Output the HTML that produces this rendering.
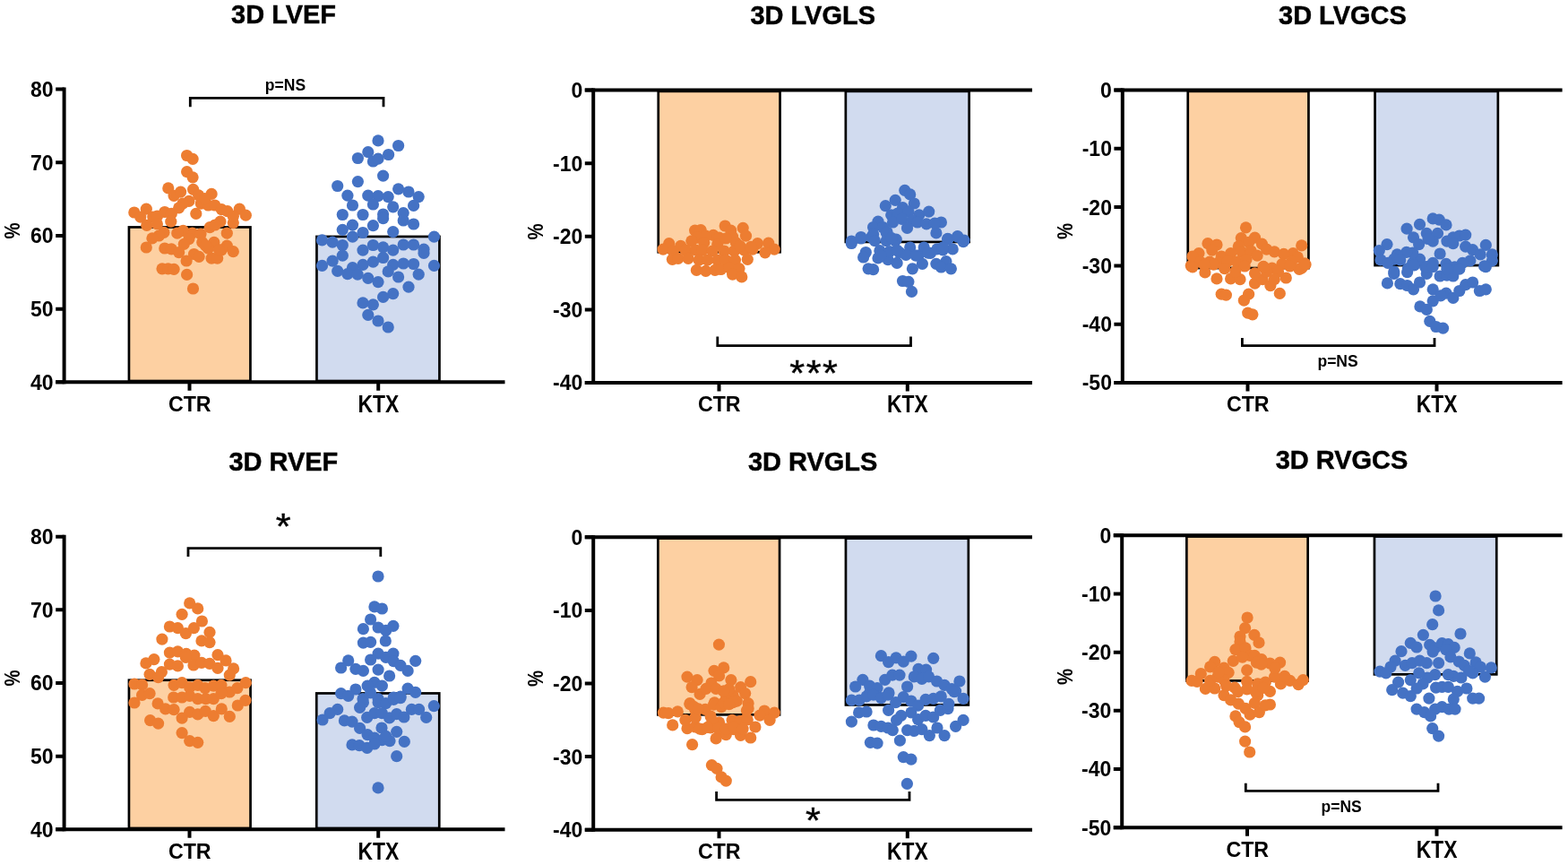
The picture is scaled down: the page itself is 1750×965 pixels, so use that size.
<!DOCTYPE html>
<html><head><meta charset="utf-8"><title>3D echocardiography</title>
<style>html,body{margin:0;padding:0;background:#fff;overflow:hidden}svg{display:block}</style>
</head><body>
<svg width="1750" height="965" viewBox="0 0 1750 965">
<rect width="1750" height="965" fill="#fff"/>
<rect x="143.95" y="253.45" width="135.5" height="171.55" fill="#FDD0A2" stroke="#000" stroke-width="2.7"/>
<rect x="353.45" y="263.95" width="137" height="161.05" fill="#D1DBEF" stroke="#000" stroke-width="2.7"/>
<g fill="#ED7D31"><circle cx="208.6" cy="173.5" r="6.6"/><circle cx="215.1" cy="177.3" r="6.6"/><circle cx="208.6" cy="191.7" r="6.6"/><circle cx="215.1" cy="197.8" r="6.6"/><circle cx="187.8" cy="209.9" r="6.6"/><circle cx="194.1" cy="218.3" r="6.6"/><circle cx="201.6" cy="214.1" r="6.6"/><circle cx="215.6" cy="211.3" r="6.6"/><circle cx="221.6" cy="217.8" r="6.6"/><circle cx="236.1" cy="216.4" r="6.6"/><circle cx="210.9" cy="224.4" r="6.6"/><circle cx="204" cy="227" r="6.6"/><circle cx="199.7" cy="231.8" r="6.6"/><circle cx="224.4" cy="227.2" r="6.6"/><circle cx="232.4" cy="229" r="6.6"/><circle cx="239.8" cy="229" r="6.6"/><circle cx="247.3" cy="233.7" r="6.6"/><circle cx="253.8" cy="235.6" r="6.6"/><circle cx="267.3" cy="233.2" r="6.6"/><circle cx="274.3" cy="240.2" r="6.6"/><circle cx="218.8" cy="238.4" r="6.6"/><circle cx="149.8" cy="237" r="6.6"/><circle cx="163.3" cy="233.2" r="6.6"/><circle cx="156.8" cy="242.1" r="6.6"/><circle cx="170.8" cy="242.1" r="6.6"/><circle cx="183.8" cy="236.5" r="6.6"/><circle cx="191.3" cy="238.4" r="6.6"/><circle cx="190.8" cy="247.2" r="6.6"/><circle cx="245.9" cy="247.2" r="6.6"/><circle cx="260.3" cy="248.6" r="6.6"/><circle cx="260.3" cy="241.2" r="6.6"/><circle cx="175.4" cy="241.2" r="6.6"/><circle cx="163.8" cy="251.3" r="6.6"/><circle cx="175.4" cy="249.9" r="6.6"/><circle cx="234.2" cy="253.7" r="6.6"/><circle cx="240" cy="251" r="6.6"/><circle cx="204.4" cy="257.4" r="6.6"/><circle cx="197.8" cy="260.2" r="6.6"/><circle cx="182.9" cy="259.3" r="6.6"/><circle cx="177.3" cy="263" r="6.6"/><circle cx="169.9" cy="265.8" r="6.6"/><circle cx="163.3" cy="276" r="6.6"/><circle cx="253.3" cy="260.2" r="6.6"/><circle cx="214.6" cy="260.2" r="6.6"/><circle cx="224" cy="261.1" r="6.6"/><circle cx="210.9" cy="266.7" r="6.6"/><circle cx="205.3" cy="272.3" r="6.6"/><circle cx="225.8" cy="270.4" r="6.6"/><circle cx="238.9" cy="270.4" r="6.6"/><circle cx="253.3" cy="274.2" r="6.6"/><circle cx="260.3" cy="280.7" r="6.6"/><circle cx="183.8" cy="277" r="6.6"/><circle cx="191.3" cy="277.9" r="6.6"/><circle cx="199.7" cy="281.6" r="6.6"/><circle cx="216.5" cy="283.5" r="6.6"/><circle cx="222.1" cy="286.3" r="6.6"/><circle cx="236.1" cy="288.2" r="6.6"/><circle cx="242.6" cy="288.2" r="6.6"/><circle cx="232.4" cy="277" r="6.6"/><circle cx="247.3" cy="278.8" r="6.6"/><circle cx="208.1" cy="291" r="6.6"/><circle cx="181" cy="299.8" r="6.6"/><circle cx="187.6" cy="299.8" r="6.6"/><circle cx="194.1" cy="300.3" r="6.6"/><circle cx="208.6" cy="306.4" r="6.6"/><circle cx="215.5" cy="322" r="6.6"/><circle cx="228.6" cy="221.6" r="6.6"/><circle cx="229.6" cy="274.2" r="6.6"/><circle cx="244.5" cy="278.8" r="6.6"/></g>
<g fill="#4472C4"><circle cx="422" cy="156.9" r="6.6"/><circle cx="444.6" cy="162.5" r="6.6"/><circle cx="410.8" cy="169.7" r="6.6"/><circle cx="399.4" cy="176.5" r="6.6"/><circle cx="416.4" cy="180" r="6.6"/><circle cx="422" cy="177.2" r="6.6"/><circle cx="433.6" cy="172.5" r="6.6"/><circle cx="427.6" cy="196.1" r="6.6"/><circle cx="399.4" cy="202.6" r="6.6"/><circle cx="376.7" cy="207.5" r="6.6"/><circle cx="444.6" cy="210.8" r="6.6"/><circle cx="456" cy="214" r="6.6"/><circle cx="467.2" cy="219.6" r="6.6"/><circle cx="387.9" cy="218.2" r="6.6"/><circle cx="410.8" cy="218.2" r="6.6"/><circle cx="422" cy="218.7" r="6.6"/><circle cx="433.2" cy="219.6" r="6.6"/><circle cx="393.5" cy="229" r="6.6"/><circle cx="416.4" cy="228" r="6.6"/><circle cx="438.7" cy="230.8" r="6.6"/><circle cx="461.6" cy="229.4" r="6.6"/><circle cx="382.3" cy="239.5" r="6.6"/><circle cx="405" cy="239.5" r="6.6"/><circle cx="427.6" cy="239" r="6.6"/><circle cx="427.6" cy="243.7" r="6.6"/><circle cx="450.2" cy="237.6" r="6.6"/><circle cx="450.2" cy="246" r="6.6"/><circle cx="461.6" cy="250" r="6.6"/><circle cx="393.5" cy="251.1" r="6.6"/><circle cx="416.4" cy="251.6" r="6.6"/><circle cx="382.3" cy="256.3" r="6.6"/><circle cx="405" cy="259.5" r="6.6"/><circle cx="393.5" cy="264.2" r="6.6"/><circle cx="438.7" cy="258.6" r="6.6"/><circle cx="484.5" cy="264.2" r="6.6"/><circle cx="359.5" cy="267.9" r="6.6"/><circle cx="371.1" cy="270.2" r="6.6"/><circle cx="382.3" cy="273.5" r="6.6"/><circle cx="416.4" cy="273.5" r="6.6"/><circle cx="427.6" cy="275.8" r="6.6"/><circle cx="405" cy="279.1" r="6.6"/><circle cx="438.7" cy="279.1" r="6.6"/><circle cx="450.2" cy="273" r="6.6"/><circle cx="461.6" cy="273" r="6.6"/><circle cx="473" cy="278.2" r="6.6"/><circle cx="473" cy="282.4" r="6.6"/><circle cx="382.3" cy="285.2" r="6.6"/><circle cx="427.6" cy="287.5" r="6.6"/><circle cx="371.1" cy="291.2" r="6.6"/><circle cx="359.5" cy="296.4" r="6.6"/><circle cx="416.4" cy="292.2" r="6.6"/><circle cx="405" cy="295.4" r="6.6"/><circle cx="393.5" cy="298.7" r="6.6"/><circle cx="438.7" cy="295.4" r="6.6"/><circle cx="450.2" cy="294" r="6.6"/><circle cx="461.6" cy="294.5" r="6.6"/><circle cx="484.5" cy="296.4" r="6.6"/><circle cx="376.7" cy="302.4" r="6.6"/><circle cx="387.9" cy="305.7" r="6.6"/><circle cx="399.1" cy="306.2" r="6.6"/><circle cx="433.2" cy="302.9" r="6.6"/><circle cx="444.6" cy="309" r="6.6"/><circle cx="467.2" cy="306.2" r="6.6"/><circle cx="410.8" cy="310.4" r="6.6"/><circle cx="422" cy="314.6" r="6.6"/><circle cx="456" cy="320.2" r="6.6"/><circle cx="438.7" cy="327.6" r="6.6"/><circle cx="427.6" cy="331.4" r="6.6"/><circle cx="405" cy="337.9" r="6.6"/><circle cx="416.4" cy="339.8" r="6.6"/><circle cx="410.8" cy="351.4" r="6.6"/><circle cx="422" cy="358" r="6.6"/><circle cx="433.2" cy="365" r="6.6"/></g>
<g stroke="#000" stroke-width="4.0" fill="none">
<path d="M71.6 97.6V428.35"/>
<path d="M62.2 99.6H71.6M62.2 181.287H71.6M62.2 262.975H71.6M62.2 344.663H71.6M62.2 426.35H71.6"/>
<path d="M62.2 426.35H563.5"/>
<path d="M211.5 426.35V435.85M422.2 426.35V435.85"/>
</g>
<path d="M212.3 119.3V109.3H428V119.3" stroke="#000" stroke-width="2.8" fill="none"/>
<g font-family='"Liberation Sans", Arial, sans-serif' font-weight="bold" fill="#000">
<text transform="matrix(1.035 0 0 1.045 258.052 25.627)" font-size="28" stroke="#000" stroke-width="0.45">3D LVEF</text>
<text transform="matrix(1.15 0 0 1.18 33.975 108.012)" font-size="20">80</text>
<text transform="matrix(1.15 0 0 1.18 33.975 189.7)" font-size="20">70</text>
<text transform="matrix(1.15 0 0 1.18 33.975 271.388)" font-size="20">60</text>
<text transform="matrix(1.15 0 0 1.18 33.975 353.075)" font-size="20">50</text>
<text transform="matrix(1.15 0 0 1.18 33.975 434.763)" font-size="20">40</text>
<text transform="matrix(1.16 0 0 1.19 187.93 458.71)" font-size="20">CTR</text>
<text transform="matrix(1.143 0 0 1.367 399.468 459.646)" font-size="20">KTX</text>
<text transform="matrix(1.094 0 0 1.11 295.863 100.587)" font-size="16">p=NS</text>
<text transform="matrix(1.207 0 0 1.015 22.498 266.607) rotate(-90)" font-size="20">%</text>
</g>
<rect x="734.75" y="101.85" width="135.8" height="179.4" fill="#FDD0A2" stroke="#000" stroke-width="2.7"/>
<rect x="943.85" y="101.85" width="137.8" height="168.1" fill="#D1DBEF" stroke="#000" stroke-width="2.7"/>
<g fill="#ED7D31"><circle cx="809.2" cy="252" r="6.6"/><circle cx="815.7" cy="257.1" r="6.6"/><circle cx="829.2" cy="254.3" r="6.6"/><circle cx="775.6" cy="257.1" r="6.6"/><circle cx="782.1" cy="256.7" r="6.6"/><circle cx="796.1" cy="262.3" r="6.6"/><circle cx="787.7" cy="263.2" r="6.6"/><circle cx="802.6" cy="265.1" r="6.6"/><circle cx="817.6" cy="264.1" r="6.6"/><circle cx="832.5" cy="263.2" r="6.6"/><circle cx="778.4" cy="265.1" r="6.6"/><circle cx="771.8" cy="268.8" r="6.6"/><circle cx="785.8" cy="270.6" r="6.6"/><circle cx="800.8" cy="272.5" r="6.6"/><circle cx="746.7" cy="271.6" r="6.6"/><circle cx="759.7" cy="274.4" r="6.6"/><circle cx="845.5" cy="271.6" r="6.6"/><circle cx="857.7" cy="271.1" r="6.6"/><circle cx="821.3" cy="270.6" r="6.6"/><circle cx="740.1" cy="278.1" r="6.6"/><circle cx="751.3" cy="280" r="6.6"/><circle cx="765.3" cy="279" r="6.6"/><circle cx="776.5" cy="279" r="6.6"/><circle cx="784" cy="279" r="6.6"/><circle cx="795.2" cy="280" r="6.6"/><circle cx="808.2" cy="280" r="6.6"/><circle cx="819.4" cy="280" r="6.6"/><circle cx="830.6" cy="279" r="6.6"/><circle cx="839.9" cy="278.1" r="6.6"/><circle cx="864.2" cy="278.1" r="6.6"/><circle cx="853.9" cy="281.8" r="6.6"/><circle cx="750.4" cy="289.3" r="6.6"/><circle cx="756.9" cy="288.4" r="6.6"/><circle cx="768.1" cy="288.4" r="6.6"/><circle cx="780.2" cy="290.2" r="6.6"/><circle cx="789.6" cy="290.2" r="6.6"/><circle cx="800.8" cy="290.2" r="6.6"/><circle cx="810.1" cy="290.2" r="6.6"/><circle cx="820.4" cy="290.2" r="6.6"/><circle cx="834.3" cy="289.3" r="6.6"/><circle cx="777.4" cy="301.4" r="6.6"/><circle cx="787.7" cy="302.4" r="6.6"/><circle cx="798" cy="301.4" r="6.6"/><circle cx="804.5" cy="300.5" r="6.6"/><circle cx="813.8" cy="298.6" r="6.6"/><circle cx="825" cy="299.6" r="6.6"/><circle cx="817.6" cy="306.1" r="6.6"/><circle cx="827.8" cy="308.9" r="6.6"/><circle cx="810.1" cy="266" r="6.6"/><circle cx="825.9" cy="274.4" r="6.6"/><circle cx="838.1" cy="275.3" r="6.6"/></g>
<g fill="#4472C4"><circle cx="1009.8" cy="212.4" r="6.6"/><circle cx="1015.7" cy="216.9" r="6.6"/><circle cx="1020.3" cy="227" r="6.6"/><circle cx="999.2" cy="223.3" r="6.6"/><circle cx="988.3" cy="229.7" r="6.6"/><circle cx="1007.5" cy="231.6" r="6.6"/><circle cx="994.7" cy="239.8" r="6.6"/><circle cx="1002" cy="238" r="6.6"/><circle cx="1013.9" cy="236.1" r="6.6"/><circle cx="1025.8" cy="239.8" r="6.6"/><circle cx="1036.7" cy="236.1" r="6.6"/><circle cx="996.5" cy="248" r="6.6"/><circle cx="1006.6" cy="244.4" r="6.6"/><circle cx="1018.4" cy="246.2" r="6.6"/><circle cx="1023.9" cy="248" r="6.6"/><circle cx="1034" cy="249.8" r="6.6"/><circle cx="1050.4" cy="248" r="6.6"/><circle cx="1044.9" cy="259.9" r="6.6"/><circle cx="1012.5" cy="254.4" r="6.6"/><circle cx="980" cy="247.1" r="6.6"/><circle cx="974.6" cy="253.5" r="6.6"/><circle cx="985.5" cy="253.5" r="6.6"/><circle cx="990.1" cy="259" r="6.6"/><circle cx="960.9" cy="264.5" r="6.6"/><circle cx="950.3" cy="269" r="6.6"/><circle cx="972.7" cy="264.5" r="6.6"/><circle cx="1000.2" cy="267.2" r="6.6"/><circle cx="1057.7" cy="266.3" r="6.6"/><circle cx="1068.7" cy="263.6" r="6.6"/><circle cx="1076" cy="268.1" r="6.6"/><circle cx="950.3" cy="271.5" r="6.6"/><circle cx="960.9" cy="266" r="6.6"/><circle cx="974.6" cy="261.4" r="6.6"/><circle cx="989.2" cy="259.6" r="6.6"/><circle cx="976.4" cy="268.7" r="6.6"/><circle cx="989.2" cy="268.7" r="6.6"/><circle cx="999.2" cy="268.7" r="6.6"/><circle cx="1057.7" cy="266.9" r="6.6"/><circle cx="1068.7" cy="264.1" r="6.6"/><circle cx="1075.1" cy="269.6" r="6.6"/><circle cx="1063.2" cy="277.9" r="6.6"/><circle cx="966.3" cy="281.5" r="6.6"/><circle cx="963.6" cy="287" r="6.6"/><circle cx="981.9" cy="279.7" r="6.6"/><circle cx="980" cy="287.9" r="6.6"/><circle cx="991" cy="289.7" r="6.6"/><circle cx="1001.1" cy="293.4" r="6.6"/><circle cx="992.8" cy="280.6" r="6.6"/><circle cx="1003.8" cy="281.5" r="6.6"/><circle cx="1015.7" cy="276" r="6.6"/><circle cx="1011.1" cy="284.3" r="6.6"/><circle cx="1031.2" cy="276" r="6.6"/><circle cx="1024.8" cy="285.2" r="6.6"/><circle cx="1029.4" cy="294.3" r="6.6"/><circle cx="1018.4" cy="299.8" r="6.6"/><circle cx="1038.5" cy="282.4" r="6.6"/><circle cx="1045.9" cy="277.9" r="6.6"/><circle cx="1052.3" cy="278.8" r="6.6"/><circle cx="1055.9" cy="291.6" r="6.6"/><circle cx="1044.9" cy="294.3" r="6.6"/><circle cx="1050.4" cy="298" r="6.6"/><circle cx="1061.4" cy="299.8" r="6.6"/><circle cx="969.1" cy="299.8" r="6.6"/><circle cx="974.6" cy="300.7" r="6.6"/><circle cx="1007.5" cy="313.5" r="6.6"/><circle cx="1013.9" cy="314.4" r="6.6"/><circle cx="1017.5" cy="325.4" r="6.6"/><circle cx="1001.1" cy="279.1" r="6.6"/><circle cx="1022.1" cy="285.1" r="6.6"/><circle cx="1035.7" cy="282.1" r="6.6"/><circle cx="1043.2" cy="249.1" r="6.6"/><circle cx="995.1" cy="265.6" r="6.6"/><circle cx="983.1" cy="285.1" r="6.6"/><circle cx="1052.2" cy="276.1" r="6.6"/></g>
<g stroke="#000" stroke-width="4.0" fill="none">
<path d="M662.2 98.5V429"/>
<path d="M652.8 100.5H662.2M652.8 182.125H662.2M652.8 263.75H662.2M652.8 345.375H662.2M652.8 427H662.2"/>
<path d="M652.8 100.5H1152"/>
<path d="M652.8 427H1152"/>
<path d="M802.5 427V436.5M1012.8 427V436.5"/>
</g>
<path d="M800.8 375.4V385.6H1016.5V375.4" stroke="#000" stroke-width="2.8" fill="none"/>
<g font-family='"Liberation Sans", Arial, sans-serif' font-weight="bold" fill="#000">
<text transform="matrix(1.035 0 0 1.045 837.496 26.627)" font-size="28" stroke="#000" stroke-width="0.45">3D LVGLS</text>
<text transform="matrix(1.15 0 0 1.18 637.513 108.912)" font-size="20">0</text>
<text transform="matrix(1.15 0 0 1.18 617.1 190.538)" font-size="20">-10</text>
<text transform="matrix(1.15 0 0 1.18 617.1 272.163)" font-size="20">-20</text>
<text transform="matrix(1.15 0 0 1.18 617.1 353.788)" font-size="20">-30</text>
<text transform="matrix(1.15 0 0 1.18 617.1 435.413)" font-size="20">-40</text>
<text transform="matrix(1.16 0 0 1.19 778.93 459.36)" font-size="20">CTR</text>
<text transform="matrix(1.143 0 0 1.367 990.068 460.296)" font-size="20">KTX</text>
<text transform="matrix(0.984 0 0 0.91 881.312 429.718)" font-size="44" font-weight="normal" stroke="#000" stroke-width="0.45">*</text>
<text transform="matrix(0.984 0 0 0.91 899.712 429.718)" font-size="44" font-weight="normal" stroke="#000" stroke-width="0.45">*</text>
<text transform="matrix(0.984 0 0 0.91 918.112 429.718)" font-size="44" font-weight="normal" stroke="#000" stroke-width="0.45">*</text>
<text transform="matrix(1.207 0 0 1.015 605.898 267.507) rotate(-90)" font-size="20">%</text>
</g>
<rect x="1325.75" y="101.85" width="134.7" height="197.2" fill="#FDD0A2" stroke="#000" stroke-width="2.7"/>
<rect x="1534.55" y="101.85" width="137.3" height="194.2" fill="#D1DBEF" stroke="#000" stroke-width="2.7"/>
<g fill="#ED7D31"><circle cx="1390.5" cy="253.9" r="6.6"/><circle cx="1385.3" cy="265.6" r="6.6"/><circle cx="1400.5" cy="265.2" r="6.6"/><circle cx="1408.4" cy="272.1" r="6.6"/><circle cx="1393.6" cy="270.4" r="6.6"/><circle cx="1348" cy="271.7" r="6.6"/><circle cx="1358" cy="273" r="6.6"/><circle cx="1352.8" cy="279.1" r="6.6"/><circle cx="1452.7" cy="273.9" r="6.6"/><circle cx="1443.1" cy="282.6" r="6.6"/><circle cx="1382.3" cy="274.8" r="6.6"/><circle cx="1338" cy="282.6" r="6.6"/><circle cx="1331" cy="286" r="6.6"/><circle cx="1363.2" cy="286" r="6.6"/><circle cx="1373.6" cy="282.6" r="6.6"/><circle cx="1385.8" cy="280.8" r="6.6"/><circle cx="1396.2" cy="280" r="6.6"/><circle cx="1403.1" cy="285.2" r="6.6"/><circle cx="1413.6" cy="278.2" r="6.6"/><circle cx="1422.3" cy="280.8" r="6.6"/><circle cx="1432.7" cy="283.4" r="6.6"/><circle cx="1448.3" cy="286.9" r="6.6"/><circle cx="1456.1" cy="293.9" r="6.6"/><circle cx="1329.3" cy="296.5" r="6.6"/><circle cx="1339.7" cy="292.1" r="6.6"/><circle cx="1350.1" cy="292.1" r="6.6"/><circle cx="1359.7" cy="293" r="6.6"/><circle cx="1370.1" cy="291.3" r="6.6"/><circle cx="1380.6" cy="292.1" r="6.6"/><circle cx="1391" cy="289.5" r="6.6"/><circle cx="1410.1" cy="297.3" r="6.6"/><circle cx="1419.7" cy="299.1" r="6.6"/><circle cx="1430.9" cy="294.7" r="6.6"/><circle cx="1441.4" cy="292.1" r="6.6"/><circle cx="1452.7" cy="299.1" r="6.6"/><circle cx="1331" cy="297.8" r="6.6"/><circle cx="1344.9" cy="303.9" r="6.6"/><circle cx="1358" cy="310.9" r="6.6"/><circle cx="1366.7" cy="299.6" r="6.6"/><circle cx="1373.6" cy="310.9" r="6.6"/><circle cx="1384" cy="311.7" r="6.6"/><circle cx="1389.2" cy="297" r="6.6"/><circle cx="1400.5" cy="316.1" r="6.6"/><circle cx="1409.2" cy="311.7" r="6.6"/><circle cx="1417.9" cy="318.7" r="6.6"/><circle cx="1428.3" cy="327.4" r="6.6"/><circle cx="1435.3" cy="310" r="6.6"/><circle cx="1450.1" cy="300.4" r="6.6"/><circle cx="1457" cy="295.2" r="6.6"/><circle cx="1439.6" cy="297" r="6.6"/><circle cx="1426.6" cy="303" r="6.6"/><circle cx="1413.6" cy="303" r="6.6"/><circle cx="1400.5" cy="304.8" r="6.6"/><circle cx="1410.1" cy="297.8" r="6.6"/><circle cx="1363.2" cy="328.2" r="6.6"/><circle cx="1368.4" cy="329.1" r="6.6"/><circle cx="1393.6" cy="328.2" r="6.6"/><circle cx="1388.4" cy="335.2" r="6.6"/><circle cx="1392.7" cy="349.1" r="6.6"/><circle cx="1397.9" cy="350.8" r="6.6"/><circle cx="1354.5" cy="295.2" r="6.6"/><circle cx="1344.1" cy="295.2" r="6.6"/><circle cx="1378.8" cy="303" r="6.6"/><circle cx="1422.3" cy="311.7" r="6.6"/></g>
<g fill="#4472C4"><circle cx="1599.2" cy="243.9" r="6.6"/><circle cx="1606.2" cy="245.2" r="6.6"/><circle cx="1614" cy="250.9" r="6.6"/><circle cx="1584.5" cy="250.4" r="6.6"/><circle cx="1570.1" cy="255.2" r="6.6"/><circle cx="1577.5" cy="264.8" r="6.6"/><circle cx="1592.3" cy="260.4" r="6.6"/><circle cx="1604.5" cy="260.4" r="6.6"/><circle cx="1583.6" cy="272.6" r="6.6"/><circle cx="1599.2" cy="269.1" r="6.6"/><circle cx="1594" cy="266.5" r="6.6"/><circle cx="1614.9" cy="269.1" r="6.6"/><circle cx="1621.8" cy="264.8" r="6.6"/><circle cx="1628.8" cy="263" r="6.6"/><circle cx="1635.7" cy="262.1" r="6.6"/><circle cx="1621.8" cy="271.7" r="6.6"/><circle cx="1635.7" cy="275.2" r="6.6"/><circle cx="1643.6" cy="278.7" r="6.6"/><circle cx="1658.3" cy="273.4" r="6.6"/><circle cx="1665.3" cy="283.9" r="6.6"/><circle cx="1665.3" cy="290.8" r="6.6"/><circle cx="1656.6" cy="296.9" r="6.6"/><circle cx="1652.2" cy="283.9" r="6.6"/><circle cx="1640.9" cy="290.8" r="6.6"/><circle cx="1632.3" cy="293.4" r="6.6"/><circle cx="1623.6" cy="297.8" r="6.6"/><circle cx="1614" cy="294.3" r="6.6"/><circle cx="1607.1" cy="283" r="6.6"/><circle cx="1599.2" cy="293.4" r="6.6"/><circle cx="1590.6" cy="297.8" r="6.6"/><circle cx="1584.5" cy="289.1" r="6.6"/><circle cx="1576.7" cy="293.4" r="6.6"/><circle cx="1576.7" cy="282.1" r="6.6"/><circle cx="1569.7" cy="281.3" r="6.6"/><circle cx="1559.3" cy="283.9" r="6.6"/><circle cx="1555.8" cy="289.1" r="6.6"/><circle cx="1548" cy="272.6" r="6.6"/><circle cx="1539.3" cy="279.5" r="6.6"/><circle cx="1541" cy="289.9" r="6.6"/><circle cx="1548.9" cy="293.4" r="6.6"/><circle cx="1562.8" cy="289.9" r="6.6"/><circle cx="1571.4" cy="299.5" r="6.6"/><circle cx="1555.8" cy="303" r="6.6"/><circle cx="1555.8" cy="305.4" r="6.6"/><circle cx="1570.6" cy="303.7" r="6.6"/><circle cx="1578.4" cy="295.9" r="6.6"/><circle cx="1592.3" cy="305.4" r="6.6"/><circle cx="1592.3" cy="297.6" r="6.6"/><circle cx="1599.2" cy="297.6" r="6.6"/><circle cx="1607.1" cy="308" r="6.6"/><circle cx="1614.9" cy="307.2" r="6.6"/><circle cx="1621.8" cy="308" r="6.6"/><circle cx="1628.8" cy="300.2" r="6.6"/><circle cx="1614.9" cy="300.2" r="6.6"/><circle cx="1658.3" cy="297.6" r="6.6"/><circle cx="1548.4" cy="315.9" r="6.6"/><circle cx="1562.8" cy="316.7" r="6.6"/><circle cx="1570.6" cy="318.5" r="6.6"/><circle cx="1577.5" cy="322.8" r="6.6"/><circle cx="1584.5" cy="315" r="6.6"/><circle cx="1599.2" cy="322.8" r="6.6"/><circle cx="1614" cy="327.1" r="6.6"/><circle cx="1621.8" cy="332.4" r="6.6"/><circle cx="1628.8" cy="324.5" r="6.6"/><circle cx="1635.7" cy="317.6" r="6.6"/><circle cx="1643.6" cy="315" r="6.6"/><circle cx="1651.4" cy="324.5" r="6.6"/><circle cx="1658.3" cy="322.8" r="6.6"/><circle cx="1599.2" cy="335.8" r="6.6"/><circle cx="1584.9" cy="341.9" r="6.6"/><circle cx="1592.3" cy="345.4" r="6.6"/><circle cx="1595.8" cy="358.4" r="6.6"/><circle cx="1602.7" cy="364.5" r="6.6"/><circle cx="1610.5" cy="366.2" r="6.6"/><circle cx="1607.9" cy="329.8" r="6.6"/></g>
<g stroke="#000" stroke-width="4.0" fill="none">
<path d="M1252.8 98.5V429"/>
<path d="M1243.4 100.5H1252.8M1243.4 165.8H1252.8M1243.4 231.1H1252.8M1243.4 296.4H1252.8M1243.4 361.7H1252.8M1243.4 427H1252.8"/>
<path d="M1243.4 100.5H1743.6"/>
<path d="M1243.4 427H1743.6"/>
<path d="M1392.5 427V436.5M1603.5 427V436.5"/>
</g>
<path d="M1386.4 377.1V385.6H1601V377.1" stroke="#000" stroke-width="2.8" fill="none"/>
<g font-family='"Liberation Sans", Arial, sans-serif' font-weight="bold" fill="#000">
<text transform="matrix(1.035 0 0 1.045 1427.044 26.627)" font-size="28" stroke="#000" stroke-width="0.45">3D LVGCS</text>
<text transform="matrix(1.15 0 0 1.18 1228.112 108.912)" font-size="20">0</text>
<text transform="matrix(1.15 0 0 1.18 1207.7 174.213)" font-size="20">-10</text>
<text transform="matrix(1.15 0 0 1.18 1207.7 239.513)" font-size="20">-20</text>
<text transform="matrix(1.15 0 0 1.18 1207.7 304.812)" font-size="20">-30</text>
<text transform="matrix(1.15 0 0 1.18 1207.7 370.113)" font-size="20">-40</text>
<text transform="matrix(1.15 0 0 1.18 1207.7 435.413)" font-size="20">-50</text>
<text transform="matrix(1.16 0 0 1.19 1368.93 459.36)" font-size="20">CTR</text>
<text transform="matrix(1.143 0 0 1.367 1580.769 460.296)" font-size="20">KTX</text>
<text transform="matrix(1.094 0 0 1.11 1470.463 408.887)" font-size="16">p=NS</text>
<text transform="matrix(1.207 0 0 1.015 1196.898 267.007) rotate(-90)" font-size="20">%</text>
</g>
<rect x="143.95" y="758.75" width="135.6" height="165.2" fill="#FDD0A2" stroke="#000" stroke-width="2.7"/>
<rect x="353.25" y="773.45" width="137" height="150.5" fill="#D1DBEF" stroke="#000" stroke-width="2.7"/>
<g fill="#ED7D31"><circle cx="211.7" cy="672.9" r="6.6"/><circle cx="220.7" cy="678.9" r="6.6"/><circle cx="203.1" cy="685.3" r="6.6"/><circle cx="225.4" cy="693" r="6.6"/><circle cx="189.4" cy="699" r="6.6"/><circle cx="198.4" cy="700.7" r="6.6"/><circle cx="207.4" cy="706.7" r="6.6"/><circle cx="216.4" cy="700.7" r="6.6"/><circle cx="234" cy="705.4" r="6.6"/><circle cx="225" cy="714.9" r="6.6"/><circle cx="234" cy="716.6" r="6.6"/><circle cx="180.9" cy="713.1" r="6.6"/><circle cx="189.4" cy="728.1" r="6.6"/><circle cx="198.4" cy="726.9" r="6.6"/><circle cx="207.9" cy="729.4" r="6.6"/><circle cx="216.9" cy="731.1" r="6.6"/><circle cx="243" cy="730.7" r="6.6"/><circle cx="171.9" cy="735.6" r="6.6"/><circle cx="162.9" cy="739.9" r="6.6"/><circle cx="189.4" cy="741.1" r="6.6"/><circle cx="198.4" cy="742.9" r="6.6"/><circle cx="207.4" cy="733.4" r="6.6"/><circle cx="216" cy="742" r="6.6"/><circle cx="225" cy="739.4" r="6.6"/><circle cx="234" cy="740.3" r="6.6"/><circle cx="243" cy="745.4" r="6.6"/><circle cx="252" cy="736.9" r="6.6"/><circle cx="260.6" cy="745.9" r="6.6"/><circle cx="256.3" cy="753.1" r="6.6"/><circle cx="167.1" cy="752.3" r="6.6"/><circle cx="180.4" cy="749.7" r="6.6"/><circle cx="176.6" cy="755.7" r="6.6"/><circle cx="150" cy="763" r="6.6"/><circle cx="158.6" cy="763.9" r="6.6"/><circle cx="194.1" cy="764.3" r="6.6"/><circle cx="203.1" cy="761.7" r="6.6"/><circle cx="211.7" cy="766.9" r="6.6"/><circle cx="220.7" cy="764.3" r="6.6"/><circle cx="228.9" cy="767.7" r="6.6"/><circle cx="238.3" cy="765.1" r="6.6"/><circle cx="246.9" cy="764.3" r="6.6"/><circle cx="256.3" cy="772" r="6.6"/><circle cx="264.9" cy="767.7" r="6.6"/><circle cx="274.3" cy="761.7" r="6.6"/><circle cx="158.6" cy="775.4" r="6.6"/><circle cx="167.1" cy="773.7" r="6.6"/><circle cx="150" cy="784" r="6.6"/><circle cx="176.1" cy="784.9" r="6.6"/><circle cx="184.7" cy="790.9" r="6.6"/><circle cx="193.7" cy="778" r="6.6"/><circle cx="194.1" cy="791.7" r="6.6"/><circle cx="203.1" cy="778" r="6.6"/><circle cx="211.7" cy="776.3" r="6.6"/><circle cx="220.7" cy="779.7" r="6.6"/><circle cx="229.7" cy="779.7" r="6.6"/><circle cx="238.3" cy="779.7" r="6.6"/><circle cx="246.9" cy="773.7" r="6.6"/><circle cx="265.3" cy="787" r="6.6"/><circle cx="273.9" cy="781.4" r="6.6"/><circle cx="211.7" cy="794.3" r="6.6"/><circle cx="220.7" cy="796.9" r="6.6"/><circle cx="229.3" cy="793.4" r="6.6"/><circle cx="238.3" cy="798.6" r="6.6"/><circle cx="247.3" cy="790.9" r="6.6"/><circle cx="256.3" cy="799.4" r="6.6"/><circle cx="203.1" cy="801.1" r="6.6"/><circle cx="167.6" cy="803.7" r="6.6"/><circle cx="176.6" cy="807.1" r="6.6"/><circle cx="203.1" cy="817.6" r="6.6"/><circle cx="211.7" cy="826.6" r="6.6"/><circle cx="220.7" cy="828.3" r="6.6"/></g>
<g fill="#4472C4"><circle cx="422" cy="643" r="6.6"/><circle cx="417.9" cy="676.9" r="6.6"/><circle cx="426.4" cy="679" r="6.6"/><circle cx="413.6" cy="691" r="6.6"/><circle cx="405.4" cy="701.7" r="6.6"/><circle cx="422.1" cy="700" r="6.6"/><circle cx="430.7" cy="703.4" r="6.6"/><circle cx="438.9" cy="698.3" r="6.6"/><circle cx="405.4" cy="717.1" r="6.6"/><circle cx="413.6" cy="716.3" r="6.6"/><circle cx="430.3" cy="715" r="6.6"/><circle cx="422.1" cy="729.1" r="6.6"/><circle cx="430.7" cy="733.4" r="6.6"/><circle cx="438.9" cy="729.1" r="6.6"/><circle cx="413.6" cy="736" r="6.6"/><circle cx="388.7" cy="736.9" r="6.6"/><circle cx="380.6" cy="745" r="6.6"/><circle cx="396.9" cy="746.3" r="6.6"/><circle cx="405.4" cy="748.4" r="6.6"/><circle cx="422.1" cy="747.1" r="6.6"/><circle cx="434.6" cy="754" r="6.6"/><circle cx="439.3" cy="737.7" r="6.6"/><circle cx="447" cy="742.4" r="6.6"/><circle cx="455.1" cy="748.4" r="6.6"/><circle cx="463.7" cy="737.3" r="6.6"/><circle cx="417.9" cy="761.3" r="6.6"/><circle cx="426.4" cy="765.1" r="6.6"/><circle cx="413.6" cy="772.9" r="6.6"/><circle cx="410.1" cy="765.1" r="6.6"/><circle cx="396.9" cy="769" r="6.6"/><circle cx="380.6" cy="773.7" r="6.6"/><circle cx="388.7" cy="776.3" r="6.6"/><circle cx="455.1" cy="768.1" r="6.6"/><circle cx="463.7" cy="772.4" r="6.6"/><circle cx="439.3" cy="778" r="6.6"/><circle cx="447" cy="777.1" r="6.6"/><circle cx="405" cy="779.7" r="6.6"/><circle cx="422.1" cy="779.7" r="6.6"/><circle cx="405.4" cy="783.7" r="6.6"/><circle cx="401.6" cy="789.3" r="6.6"/><circle cx="422.1" cy="783.7" r="6.6"/><circle cx="430.7" cy="784.6" r="6.6"/><circle cx="439.3" cy="780.3" r="6.6"/><circle cx="447" cy="778.6" r="6.6"/><circle cx="376.7" cy="791.4" r="6.6"/><circle cx="368.1" cy="795.7" r="6.6"/><circle cx="360" cy="803" r="6.6"/><circle cx="384.4" cy="803.9" r="6.6"/><circle cx="393" cy="805.1" r="6.6"/><circle cx="401.6" cy="812.4" r="6.6"/><circle cx="409.7" cy="800.4" r="6.6"/><circle cx="417.9" cy="795.7" r="6.6"/><circle cx="426.4" cy="795.7" r="6.6"/><circle cx="434.6" cy="800.9" r="6.6"/><circle cx="442.7" cy="796.6" r="6.6"/><circle cx="450.9" cy="800" r="6.6"/><circle cx="459.4" cy="791.4" r="6.6"/><circle cx="467.6" cy="791.4" r="6.6"/><circle cx="475.7" cy="800.4" r="6.6"/><circle cx="484.3" cy="787.6" r="6.6"/><circle cx="426" cy="812" r="6.6"/><circle cx="410.1" cy="819.7" r="6.6"/><circle cx="417.9" cy="823.1" r="6.6"/><circle cx="426.4" cy="825.7" r="6.6"/><circle cx="435" cy="826.6" r="6.6"/><circle cx="442.7" cy="816.3" r="6.6"/><circle cx="430.7" cy="821.4" r="6.6"/><circle cx="451.3" cy="827.4" r="6.6"/><circle cx="393" cy="830.9" r="6.6"/><circle cx="401.1" cy="831.7" r="6.6"/><circle cx="409.7" cy="834.3" r="6.6"/><circle cx="417.9" cy="830" r="6.6"/><circle cx="442.7" cy="843.7" r="6.6"/><circle cx="422" cy="878.9" r="6.6"/></g>
<g stroke="#000" stroke-width="4.0" fill="none">
<path d="M71.6 596.7V927.3"/>
<path d="M62.2 598.7H71.6M62.2 680.35H71.6M62.2 762H71.6M62.2 843.65H71.6M62.2 925.3H71.6"/>
<path d="M62.2 925.3H563.5"/>
<path d="M211.5 925.3V934.8M422.2 925.3V934.8"/>
</g>
<path d="M210 621V611.7H424.8V621" stroke="#000" stroke-width="2.8" fill="none"/>
<g font-family='"Liberation Sans", Arial, sans-serif' font-weight="bold" fill="#000">
<text transform="matrix(1.035 0 0 1.045 255.494 524.628)" font-size="28" stroke="#000" stroke-width="0.45">3D RVEF</text>
<text transform="matrix(1.15 0 0 1.18 33.975 607.112)" font-size="20">80</text>
<text transform="matrix(1.15 0 0 1.18 33.975 688.762)" font-size="20">70</text>
<text transform="matrix(1.15 0 0 1.18 33.975 770.412)" font-size="20">60</text>
<text transform="matrix(1.15 0 0 1.18 33.975 852.062)" font-size="20">50</text>
<text transform="matrix(1.15 0 0 1.18 33.975 933.712)" font-size="20">40</text>
<text transform="matrix(1.16 0 0 1.19 187.93 957.66)" font-size="20">CTR</text>
<text transform="matrix(1.143 0 0 1.367 399.468 958.596)" font-size="20">KTX</text>
<text transform="matrix(0.984 0 0 0.91 307.762 601.418)" font-size="44" font-weight="normal" stroke="#000" stroke-width="0.45">*</text>
<text transform="matrix(1.207 0 0 1.015 22.498 765.507) rotate(-90)" font-size="20">%</text>
</g>
<rect x="734.35" y="600.65" width="135.7" height="196.7" fill="#FDD0A2" stroke="#000" stroke-width="2.7"/>
<rect x="943.95" y="600.65" width="136.9" height="185.8" fill="#D1DBEF" stroke="#000" stroke-width="2.7"/>
<g fill="#ED7D31"><circle cx="802.4" cy="719.1" r="6.6"/><circle cx="807.7" cy="744.9" r="6.6"/><circle cx="797" cy="748.3" r="6.6"/><circle cx="802.6" cy="753.9" r="6.6"/><circle cx="767" cy="755.1" r="6.6"/><circle cx="778.1" cy="758.6" r="6.6"/><circle cx="794" cy="762" r="6.6"/><circle cx="815.9" cy="758.6" r="6.6"/><circle cx="826.6" cy="766.7" r="6.6"/><circle cx="837.7" cy="760.7" r="6.6"/><circle cx="772.1" cy="766.7" r="6.6"/><circle cx="781.1" cy="774.4" r="6.6"/><circle cx="788" cy="768.4" r="6.6"/><circle cx="799.1" cy="768.4" r="6.6"/><circle cx="807.7" cy="771" r="6.6"/><circle cx="818" cy="775.3" r="6.6"/><circle cx="831.7" cy="773.6" r="6.6"/><circle cx="810.3" cy="779.6" r="6.6"/><circle cx="770" cy="784.7" r="6.6"/><circle cx="797.4" cy="783.9" r="6.6"/><circle cx="835.1" cy="784.7" r="6.6"/><circle cx="822.3" cy="782.1" r="6.6"/><circle cx="740.4" cy="795.1" r="6.6"/><circle cx="746" cy="795.6" r="6.6"/><circle cx="756.3" cy="793.9" r="6.6"/><circle cx="770" cy="785.7" r="6.6"/><circle cx="776" cy="792.1" r="6.6"/><circle cx="787.1" cy="791.3" r="6.6"/><circle cx="796.6" cy="786.1" r="6.6"/><circle cx="805.1" cy="788.7" r="6.6"/><circle cx="818" cy="783.6" r="6.6"/><circle cx="835.1" cy="790.4" r="6.6"/><circle cx="853.1" cy="793" r="6.6"/><circle cx="864.3" cy="795.1" r="6.6"/><circle cx="848" cy="798.1" r="6.6"/><circle cx="859.1" cy="803.3" r="6.6"/><circle cx="750.7" cy="808.9" r="6.6"/><circle cx="767" cy="812.7" r="6.6"/><circle cx="776" cy="811" r="6.6"/><circle cx="764.9" cy="803.3" r="6.6"/><circle cx="776" cy="800.7" r="6.6"/><circle cx="793.1" cy="799" r="6.6"/><circle cx="802.6" cy="805.9" r="6.6"/><circle cx="817.1" cy="803.3" r="6.6"/><circle cx="830.9" cy="803.3" r="6.6"/><circle cx="842.9" cy="811" r="6.6"/><circle cx="783.7" cy="813.6" r="6.6"/><circle cx="793.1" cy="811.9" r="6.6"/><circle cx="803.4" cy="816.1" r="6.6"/><circle cx="810.3" cy="819.6" r="6.6"/><circle cx="818.9" cy="813.6" r="6.6"/><circle cx="826.6" cy="820.4" r="6.6"/><circle cx="837.7" cy="823" r="6.6"/><circle cx="799.1" cy="823.9" r="6.6"/><circle cx="772.6" cy="830.7" r="6.6"/><circle cx="794.4" cy="853.6" r="6.6"/><circle cx="800" cy="857.4" r="6.6"/><circle cx="805.1" cy="866.9" r="6.6"/><circle cx="810.3" cy="871.1" r="6.6"/><circle cx="776" cy="800.3" r="6.6"/><circle cx="794.9" cy="804.6" r="6.6"/><circle cx="825.7" cy="804.6" r="6.6"/><circle cx="834.3" cy="802.9" r="6.6"/><circle cx="781.1" cy="813.1" r="6.6"/><circle cx="789.7" cy="811.4" r="6.6"/><circle cx="801.7" cy="812.3" r="6.6"/><circle cx="810.3" cy="813.1" r="6.6"/><circle cx="818.9" cy="811.4" r="6.6"/><circle cx="829.1" cy="813.1" r="6.6"/><circle cx="807.7" cy="784" r="6.6"/><circle cx="813.7" cy="785.7" r="6.6"/><circle cx="774.3" cy="788.3" r="6.6"/><circle cx="779.4" cy="790.9" r="6.6"/><circle cx="813.7" cy="768.6" r="6.6"/><circle cx="807.7" cy="771.1" r="6.6"/><circle cx="833.4" cy="792.6" r="6.6"/></g>
<g fill="#4472C4"><circle cx="983.4" cy="731.7" r="6.6"/><circle cx="991.6" cy="738.6" r="6.6"/><circle cx="1000.1" cy="733.9" r="6.6"/><circle cx="1008.3" cy="738.1" r="6.6"/><circle cx="1016.9" cy="732.1" r="6.6"/><circle cx="1041.7" cy="734.3" r="6.6"/><circle cx="1025" cy="746.3" r="6.6"/><circle cx="1033.6" cy="747.1" r="6.6"/><circle cx="1020.3" cy="754.9" r="6.6"/><circle cx="1028.9" cy="757.4" r="6.6"/><circle cx="1036.6" cy="754.9" r="6.6"/><circle cx="1045.6" cy="760" r="6.6"/><circle cx="1054.1" cy="764.3" r="6.6"/><circle cx="1062.3" cy="768.6" r="6.6"/><circle cx="1070.9" cy="760" r="6.6"/><circle cx="1066.6" cy="771.1" r="6.6"/><circle cx="987.7" cy="758.3" r="6.6"/><circle cx="995.9" cy="753.1" r="6.6"/><circle cx="1004" cy="753.1" r="6.6"/><circle cx="1012.6" cy="766" r="6.6"/><circle cx="962.9" cy="758.3" r="6.6"/><circle cx="954.7" cy="766" r="6.6"/><circle cx="970.6" cy="765.1" r="6.6"/><circle cx="979.1" cy="767.7" r="6.6"/><circle cx="970.6" cy="772.9" r="6.6"/><circle cx="992" cy="772.9" r="6.6"/><circle cx="950.4" cy="781.1" r="6.6"/><circle cx="959" cy="781.1" r="6.6"/><circle cx="967.1" cy="776.9" r="6.6"/><circle cx="974.9" cy="775.1" r="6.6"/><circle cx="983.4" cy="778.6" r="6.6"/><circle cx="991.1" cy="775.1" r="6.6"/><circle cx="999.7" cy="783.7" r="6.6"/><circle cx="1008.3" cy="777.7" r="6.6"/><circle cx="1016.9" cy="782" r="6.6"/><circle cx="1024.6" cy="787.1" r="6.6"/><circle cx="1033.1" cy="780.3" r="6.6"/><circle cx="1041.7" cy="779.4" r="6.6"/><circle cx="1050.3" cy="776.9" r="6.6"/><circle cx="1064.9" cy="771.7" r="6.6"/><circle cx="1075.1" cy="779.4" r="6.6"/><circle cx="958.6" cy="794.9" r="6.6"/><circle cx="967.1" cy="794" r="6.6"/><circle cx="950.4" cy="805.1" r="6.6"/><circle cx="991.6" cy="792.3" r="6.6"/><circle cx="1005.7" cy="798.3" r="6.6"/><circle cx="1016.9" cy="794.9" r="6.6"/><circle cx="1000.6" cy="803.4" r="6.6"/><circle cx="1024.6" cy="802.6" r="6.6"/><circle cx="1033.1" cy="798.3" r="6.6"/><circle cx="1041.7" cy="800" r="6.6"/><circle cx="1049.4" cy="792.3" r="6.6"/><circle cx="1058" cy="790.6" r="6.6"/><circle cx="1058.9" cy="785.4" r="6.6"/><circle cx="974.9" cy="809" r="6.6"/><circle cx="983.4" cy="810.3" r="6.6"/><circle cx="991.1" cy="812" r="6.6"/><circle cx="996.3" cy="814.6" r="6.6"/><circle cx="1012.6" cy="814.6" r="6.6"/><circle cx="1020.3" cy="815.4" r="6.6"/><circle cx="1028.9" cy="813.7" r="6.6"/><circle cx="1037.4" cy="820.6" r="6.6"/><circle cx="1046" cy="812" r="6.6"/><circle cx="1054.1" cy="820.6" r="6.6"/><circle cx="1066.6" cy="810.3" r="6.6"/><circle cx="1075.1" cy="803.4" r="6.6"/><circle cx="971.4" cy="828.3" r="6.6"/><circle cx="979.1" cy="829.1" r="6.6"/><circle cx="1004.4" cy="826.1" r="6.6"/><circle cx="1008.3" cy="844.6" r="6.6"/><circle cx="1016.9" cy="847.1" r="6.6"/><circle cx="1012.4" cy="874.4" r="6.6"/></g>
<g stroke="#000" stroke-width="4.0" fill="none">
<path d="M662.2 597.3V927.7"/>
<path d="M652.8 599.3H662.2M652.8 680.9H662.2M652.8 762.5H662.2M652.8 844.1H662.2M652.8 925.7H662.2"/>
<path d="M652.8 599.3H1152"/>
<path d="M652.8 925.7H1152"/>
<path d="M802.5 925.7V935.2M1012.8 925.7V935.2"/>
</g>
<path d="M799.6 883V892.4H1015V883" stroke="#000" stroke-width="2.8" fill="none"/>
<g font-family='"Liberation Sans", Arial, sans-serif' font-weight="bold" fill="#000">
<text transform="matrix(1.035 0 0 1.045 834.938 524.628)" font-size="28" stroke="#000" stroke-width="0.45">3D RVGLS</text>
<text transform="matrix(1.15 0 0 1.18 637.513 607.712)" font-size="20">0</text>
<text transform="matrix(1.15 0 0 1.18 617.1 689.312)" font-size="20">-10</text>
<text transform="matrix(1.15 0 0 1.18 617.1 770.912)" font-size="20">-20</text>
<text transform="matrix(1.15 0 0 1.18 617.1 852.512)" font-size="20">-30</text>
<text transform="matrix(1.15 0 0 1.18 617.1 934.112)" font-size="20">-40</text>
<text transform="matrix(1.16 0 0 1.19 778.93 958.06)" font-size="20">CTR</text>
<text transform="matrix(1.143 0 0 1.367 990.068 958.996)" font-size="20">KTX</text>
<text transform="matrix(0.984 0 0 0.91 898.912 929.018)" font-size="44" font-weight="normal" stroke="#000" stroke-width="0.45">*</text>
<text transform="matrix(1.207 0 0 1.015 605.898 766.007) rotate(-90)" font-size="20">%</text>
</g>
<rect x="1324.35" y="598.55" width="135.3" height="160.9" fill="#FDD0A2" stroke="#000" stroke-width="2.7"/>
<rect x="1533.95" y="598.55" width="136.3" height="153.8" fill="#D1DBEF" stroke="#000" stroke-width="2.7"/>
<g fill="#ED7D31"><circle cx="1392.1" cy="689" r="6.6"/><circle cx="1389.6" cy="700.6" r="6.6"/><circle cx="1384" cy="710" r="6.6"/><circle cx="1399.9" cy="708.3" r="6.6"/><circle cx="1405" cy="716.9" r="6.6"/><circle cx="1384" cy="716" r="6.6"/><circle cx="1378.9" cy="724.6" r="6.6"/><circle cx="1390" cy="722.9" r="6.6"/><circle cx="1395.1" cy="731.4" r="6.6"/><circle cx="1400.3" cy="731.4" r="6.6"/><circle cx="1376.3" cy="737.4" r="6.6"/><circle cx="1386.6" cy="733.1" r="6.6"/><circle cx="1408" cy="735.7" r="6.6"/><circle cx="1417.4" cy="740" r="6.6"/><circle cx="1428.6" cy="739.1" r="6.6"/><circle cx="1402.4" cy="739.1" r="6.6"/><circle cx="1391.7" cy="747.7" r="6.6"/><circle cx="1355.7" cy="738.3" r="6.6"/><circle cx="1350.6" cy="743.9" r="6.6"/><circle cx="1366" cy="745.1" r="6.6"/><circle cx="1371.1" cy="750.3" r="6.6"/><circle cx="1330" cy="759.4" r="6.6"/><circle cx="1336" cy="760.3" r="6.6"/><circle cx="1345.4" cy="768.4" r="6.6"/><circle cx="1355.7" cy="768" r="6.6"/><circle cx="1350.6" cy="759.4" r="6.6"/><circle cx="1366" cy="758.6" r="6.6"/><circle cx="1366" cy="775.7" r="6.6"/><circle cx="1373.7" cy="780.9" r="6.6"/><circle cx="1382.3" cy="785.1" r="6.6"/><circle cx="1378" cy="767.1" r="6.6"/><circle cx="1391.7" cy="760.3" r="6.6"/><circle cx="1391.7" cy="768.9" r="6.6"/><circle cx="1403.7" cy="762.9" r="6.6"/><circle cx="1412.3" cy="761.1" r="6.6"/><circle cx="1417.4" cy="771.4" r="6.6"/><circle cx="1403.7" cy="775.7" r="6.6"/><circle cx="1400.3" cy="784.3" r="6.6"/><circle cx="1390" cy="790.3" r="6.6"/><circle cx="1395.1" cy="797.1" r="6.6"/><circle cx="1405.4" cy="794.6" r="6.6"/><circle cx="1417.4" cy="786" r="6.6"/><circle cx="1429.4" cy="762.9" r="6.6"/><circle cx="1439.7" cy="759.4" r="6.6"/><circle cx="1449.1" cy="763.7" r="6.6"/><circle cx="1454.3" cy="758.6" r="6.6"/><circle cx="1378.9" cy="798.9" r="6.6"/><circle cx="1383.1" cy="805.7" r="6.6"/><circle cx="1389.6" cy="810.9" r="6.6"/><circle cx="1389.6" cy="827.1" r="6.6"/><circle cx="1422.6" cy="755.1" r="6.6"/><circle cx="1433.7" cy="754.3" r="6.6"/><circle cx="1340.3" cy="751.7" r="6.6"/><circle cx="1359.1" cy="755.1" r="6.6"/><circle cx="1394.7" cy="839" r="6.6"/><circle cx="1381.7" cy="771.6" r="6.6"/><circle cx="1401.2" cy="771.6" r="6.6"/><circle cx="1409.9" cy="767.3" r="6.6"/><circle cx="1368.6" cy="765.1" r="6.6"/><circle cx="1407.7" cy="741.2" r="6.6"/><circle cx="1422.9" cy="745.5" r="6.6"/><circle cx="1412.1" cy="786.8" r="6.6"/><circle cx="1359.9" cy="749.9" r="6.6"/></g>
<g fill="#4472C4"><circle cx="1602.1" cy="665" r="6.6"/><circle cx="1605.6" cy="680.9" r="6.6"/><circle cx="1598.7" cy="696.7" r="6.6"/><circle cx="1588.4" cy="708.3" r="6.6"/><circle cx="1630" cy="707" r="6.6"/><circle cx="1574.3" cy="717.3" r="6.6"/><circle cx="1581.1" cy="722" r="6.6"/><circle cx="1564" cy="726.7" r="6.6"/><circle cx="1595.7" cy="719.4" r="6.6"/><circle cx="1601.7" cy="722.9" r="6.6"/><circle cx="1609.4" cy="717.7" r="6.6"/><circle cx="1616.3" cy="718.6" r="6.6"/><circle cx="1623.1" cy="722.4" r="6.6"/><circle cx="1613.7" cy="724.6" r="6.6"/><circle cx="1640.3" cy="728.9" r="6.6"/><circle cx="1599.1" cy="727.1" r="6.6"/><circle cx="1557.1" cy="737.1" r="6.6"/><circle cx="1552" cy="744" r="6.6"/><circle cx="1540" cy="749.1" r="6.6"/><circle cx="1546.9" cy="750.9" r="6.6"/><circle cx="1568.3" cy="742.3" r="6.6"/><circle cx="1576" cy="739.7" r="6.6"/><circle cx="1584.6" cy="737.1" r="6.6"/><circle cx="1592.3" cy="739.7" r="6.6"/><circle cx="1605.6" cy="739.7" r="6.6"/><circle cx="1618.9" cy="732.9" r="6.6"/><circle cx="1628.3" cy="738" r="6.6"/><circle cx="1634.3" cy="742.3" r="6.6"/><circle cx="1647.1" cy="738.9" r="6.6"/><circle cx="1652.3" cy="744" r="6.6"/><circle cx="1664.3" cy="744.9" r="6.6"/><circle cx="1643.7" cy="750.9" r="6.6"/><circle cx="1657.4" cy="755.1" r="6.6"/><circle cx="1639.4" cy="748.3" r="6.6"/><circle cx="1630.9" cy="756" r="6.6"/><circle cx="1622.3" cy="754.3" r="6.6"/><circle cx="1616.3" cy="752.6" r="6.6"/><circle cx="1601.7" cy="752.6" r="6.6"/><circle cx="1593.1" cy="756" r="6.6"/><circle cx="1583.7" cy="750.9" r="6.6"/><circle cx="1574.3" cy="758.6" r="6.6"/><circle cx="1588" cy="762.9" r="6.6"/><circle cx="1581.1" cy="768" r="6.6"/><circle cx="1560.6" cy="761.1" r="6.6"/><circle cx="1553.7" cy="769.7" r="6.6"/><circle cx="1565.7" cy="773.1" r="6.6"/><circle cx="1574.3" cy="776.6" r="6.6"/><circle cx="1602.6" cy="767.1" r="6.6"/><circle cx="1609.4" cy="766.3" r="6.6"/><circle cx="1616.3" cy="766.3" r="6.6"/><circle cx="1626.6" cy="771.4" r="6.6"/><circle cx="1636.9" cy="768" r="6.6"/><circle cx="1622.3" cy="780" r="6.6"/><circle cx="1594.9" cy="779.1" r="6.6"/><circle cx="1643.7" cy="779.1" r="6.6"/><circle cx="1650.6" cy="779.1" r="6.6"/><circle cx="1581.1" cy="791.1" r="6.6"/><circle cx="1589.7" cy="794.6" r="6.6"/><circle cx="1601.7" cy="791.1" r="6.6"/><circle cx="1609.4" cy="788.6" r="6.6"/><circle cx="1617.1" cy="791.1" r="6.6"/><circle cx="1624" cy="791.1" r="6.6"/><circle cx="1596.6" cy="798.9" r="6.6"/><circle cx="1598.7" cy="812.6" r="6.6"/><circle cx="1605.6" cy="821.1" r="6.6"/></g>
<g stroke="#000" stroke-width="4.0" fill="none">
<path d="M1252.2 595.2V925.3"/>
<path d="M1242.8 597.2H1252.2M1242.8 662.42H1252.2M1242.8 727.64H1252.2M1242.8 792.86H1252.2M1242.8 858.08H1252.2M1242.8 923.3H1252.2"/>
<path d="M1242.8 597.2H1743.6"/>
<path d="M1242.8 923.3H1743.6"/>
<path d="M1392 923.3V932.8M1603.5 923.3V932.8"/>
</g>
<path d="M1390.3 873.8V882.3H1605V873.8" stroke="#000" stroke-width="2.8" fill="none"/>
<g font-family='"Liberation Sans", Arial, sans-serif' font-weight="bold" fill="#000">
<text transform="matrix(1.035 0 0 1.045 1423.686 522.727)" font-size="28" stroke="#000" stroke-width="0.45">3D RVGCS</text>
<text transform="matrix(1.15 0 0 1.18 1227.513 605.612)" font-size="20">0</text>
<text transform="matrix(1.15 0 0 1.18 1207.1 670.832)" font-size="20">-10</text>
<text transform="matrix(1.15 0 0 1.18 1207.1 736.052)" font-size="20">-20</text>
<text transform="matrix(1.15 0 0 1.18 1207.1 801.272)" font-size="20">-30</text>
<text transform="matrix(1.15 0 0 1.18 1207.1 866.492)" font-size="20">-40</text>
<text transform="matrix(1.15 0 0 1.18 1207.1 931.712)" font-size="20">-50</text>
<text transform="matrix(1.16 0 0 1.19 1368.43 955.66)" font-size="20">CTR</text>
<text transform="matrix(1.143 0 0 1.367 1580.769 956.596)" font-size="20">KTX</text>
<text transform="matrix(1.094 0 0 1.11 1474.563 906.087)" font-size="16">p=NS</text>
<text transform="matrix(1.207 0 0 1.015 1196.898 764.007) rotate(-90)" font-size="20">%</text>
</g>
</svg>
</body></html>
